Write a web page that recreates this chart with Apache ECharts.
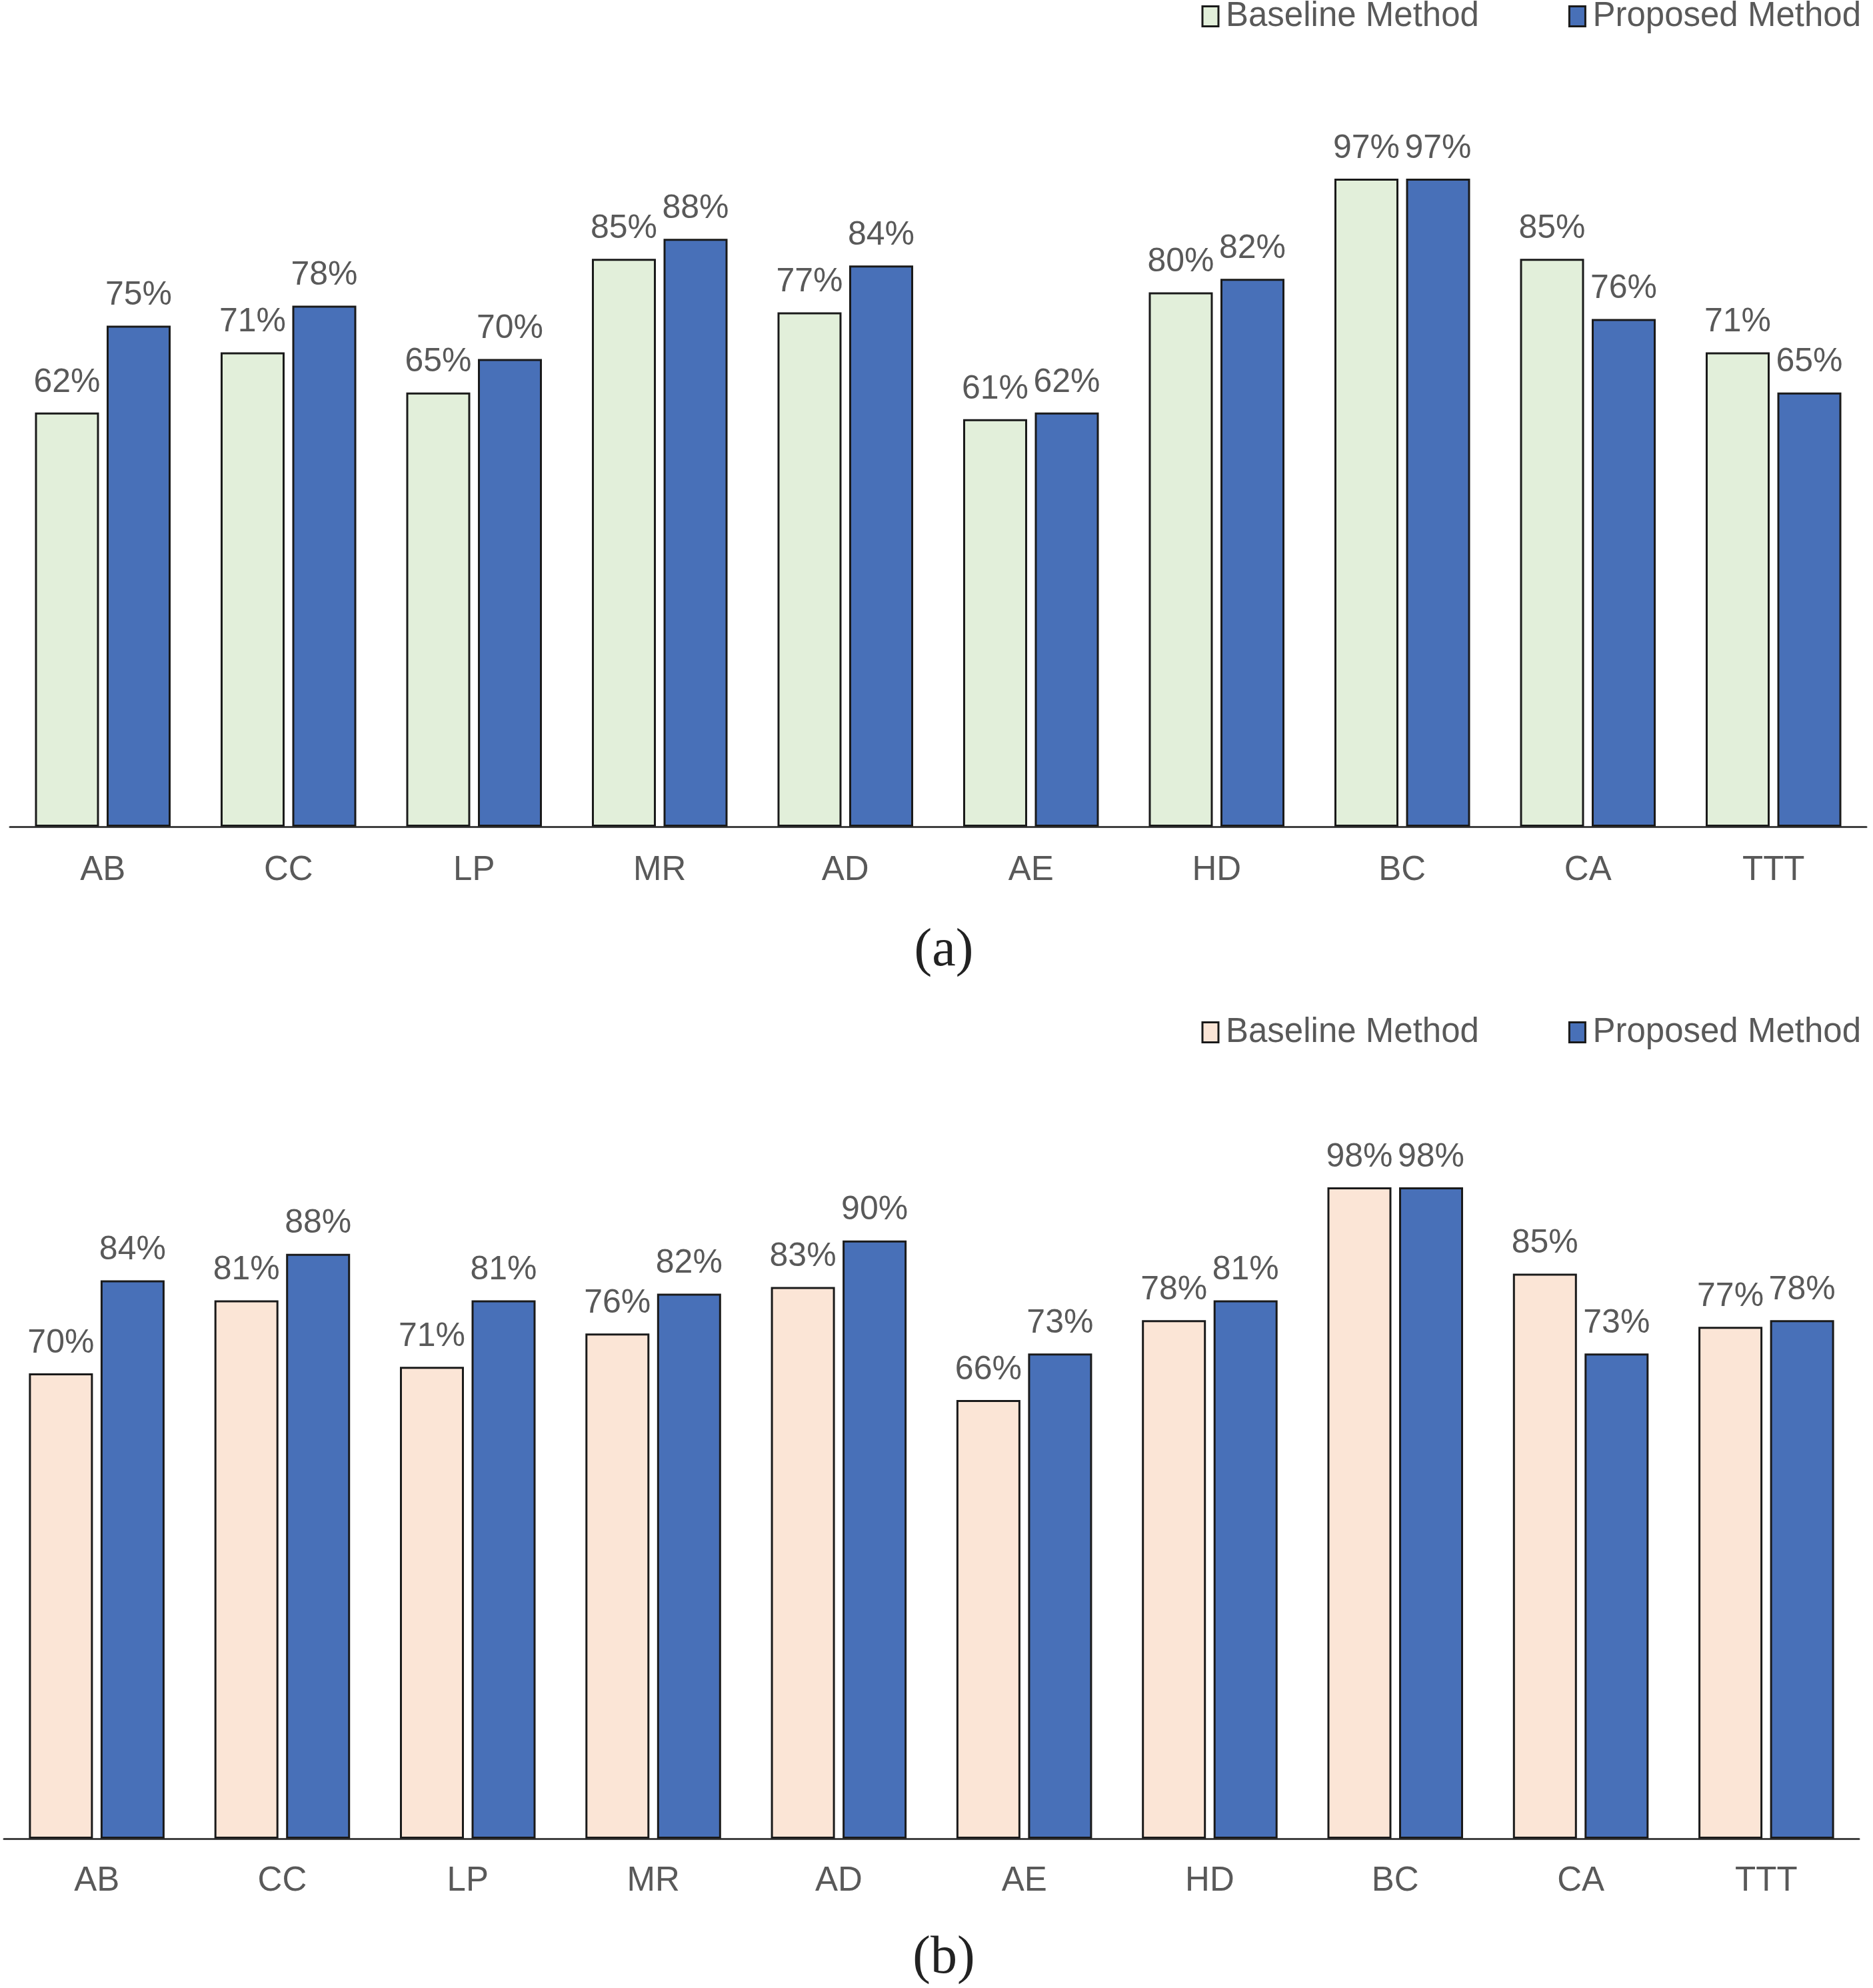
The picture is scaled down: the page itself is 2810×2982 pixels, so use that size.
<!DOCTYPE html>
<html>
<head>
<meta charset="utf-8">
<script src="https://cdn.jsdelivr.net/npm/echarts@6/dist/echarts.min.js"></script>
<style>
html,body{margin:0;padding:0;background:#fff;}
#chart{width:2810px;height:2982px;}
</style>
</head>
<body>
<div id="chart"></div>
<script>
const categories = ['AB','CC','LP','MR','AD','AE','HD','BC','CA','TTT'];
const baselineA = [62,71,65,85,77,61,80,97,85,71];
const proposedA = [75,78,70,88,84,62,82,97,76,65];
const baselineB = [70,81,71,76,83,66,78,98,85,77];
const proposedB = [84,88,81,82,90,73,81,98,73,78];
const seriesNames = ['Baseline Method','Proposed Method'];
const captions = ['(a)','(b)'];

const colBaseA = '#E2EFDA';
const colBaseB = '#FBE5D6';
const colProp = '#4870B8';
const textCol = '#595959';
const labelFont = 'Liberation Sans, Arial, sans-serif';

function barSeries(name, data, color, idx){
  return {
    name: name, type: 'bar', data: data,
    xAxisIndex: idx, yAxisIndex: idx,
    barWidth: 96, barGap: '12%',
    itemStyle: {color: color, borderColor: '#1a1a1a', borderWidth: 3},
    label: {show: true, position: 'top', distance: 20, formatter: '{c}%',
      color: textCol, fontSize: 50, fontFamily: labelFont},
    emphasis: {disabled: true}, animation: false
  };
}
function xAx(idx, margin){
  return {type:'category', gridIndex: idx, data: categories,
    axisLine:{lineStyle:{color:'#404040', width:3}}, axisTick:{show:false},
    axisLabel:{color:textCol, fontSize:51, fontFamily:labelFont, margin:margin}};
}
function yAx(idx){
  return {type:'value', gridIndex: idx, min:0, max:100, interval:20, show:false, splitLine:{show:false}};
}
function legend(top, base){
  return {top: top, right: 13, icon:'rect', itemWidth: 24, itemHeight: 30, itemGap: 134,
    textStyle:{color:textCol, fontSize:51, fontFamily:labelFont, padding:[0,0,0,6]},
    data:[{name:seriesNames[0], itemStyle:{color:base, borderColor:'#1a1a1a', borderWidth:3}},
          {name:seriesNames[1], itemStyle:{color:colProp, borderColor:'#1a1a1a', borderWidth:3}}],
    selectedMode:false};
}
function caption(text, y){
  return {type:'text', x:1416, y:y, silent:true,
    style:{text:text, textAlign:'center', textVerticalAlign:'middle',
      font:'80px "Liberation Serif", "Times New Roman", serif', fill:'#222'}};
}

const chart = echarts.init(document.getElementById('chart'));
chart.setOption({
  backgroundColor:'#fff',
  animation:false,
  graphic:[caption(captions[0], 1427), caption(captions[1], 2938)],
  legend:[legend(-6, colBaseA), legend(1518, colBaseB)],
  grid:[
    {left:15, right:10, top:238, bottom:1742},
    {left:6, right:21, top:1761, bottom:224}
  ],
  xAxis:[xAx(0, 40), xAx(1, 38)],
  yAxis:[yAx(0), yAx(1)],
  series:[
    barSeries(seriesNames[0], baselineA, colBaseA, 0),
    barSeries(seriesNames[1], proposedA, colProp, 0),
    barSeries(seriesNames[0], baselineB, colBaseB, 1),
    barSeries(seriesNames[1], proposedB, colProp, 1)
  ]
});
</script>
</body>
</html>
